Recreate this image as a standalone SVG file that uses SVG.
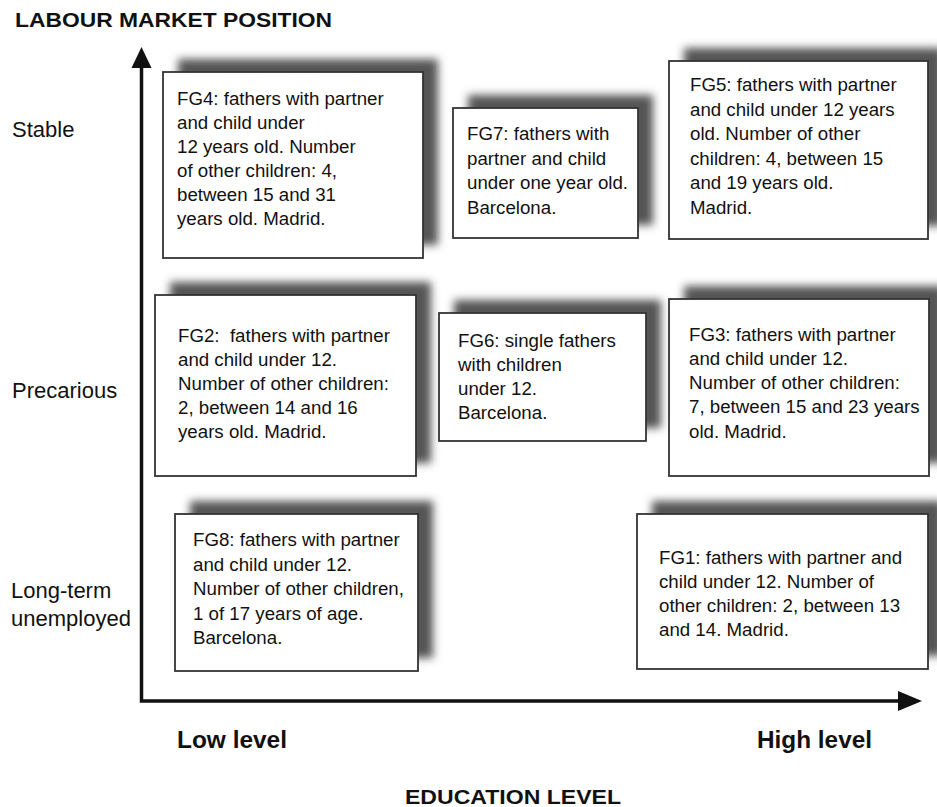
<svg xmlns="http://www.w3.org/2000/svg" width="937" height="807" viewBox="0 0 937 807">
<style>
.box{fill:#ffffff;stroke:#333333;stroke-width:1.8}
.sh{fill:#555555;filter:url(#blur)}
.t{font-family:"Liberation Sans",Arial,sans-serif;font-size:18.7px;fill:#111111}
.side{font-family:"Liberation Sans",Arial,sans-serif;font-size:22px;fill:#111111}
.ax{font-family:"Liberation Sans",Arial,sans-serif;font-weight:bold;font-size:21px;fill:#111111}
.lvl{font-family:"Liberation Sans",Arial,sans-serif;font-weight:bold;font-size:23px;fill:#111111}
.axis{stroke:#111111;stroke-width:3.5;fill:none}
</style>
<defs>
<filter id="blur" x="-20%" y="-20%" width="140%" height="140%"><feGaussianBlur stdDeviation="4"/></filter>
</defs>
<rect width="937" height="807" fill="#ffffff"/>
<text class="ax" x="15" y="27" textLength="317" lengthAdjust="spacingAndGlyphs">LABOUR MARKET POSITION</text>
<text class="ax" x="405" y="804" textLength="216" lengthAdjust="spacingAndGlyphs">EDUCATION LEVEL</text>
<text class="lvl" x="177" y="748" textLength="110" lengthAdjust="spacingAndGlyphs">Low level</text>
<text class="lvl" x="757" y="748" textLength="115" lengthAdjust="spacingAndGlyphs">High level</text>
<text class="side" x="12" y="137">Stable</text>
<text class="side" x="12" y="398">Precarious</text>
<text class="side" x="11" y="598">Long-term</text>
<text class="side" x="11" y="626">unemployed</text>
<g id="connectors">
<path class="axis" d="M141.5,64 V701 H900"/>
<polygon points="141.5,47 131.5,68 151.5,68" fill="#111111"/>
<polygon points="922,701 898,691 898,711" fill="#111111"/>
</g>
<g id="FG4">
<rect class="sh" x="178" y="59" width="260" height="186"/>
<rect class="box" x="163" y="72" width="260" height="186"/>
<text class="t" x="177" y="105">FG4: fathers with partner</text>
<text class="t" x="177" y="129">and child under</text>
<text class="t" x="177" y="153">12 years old. Number</text>
<text class="t" x="177" y="177">of other children: 4,</text>
<text class="t" x="177" y="201">between 15 and 31</text>
<text class="t" x="177" y="225">years old. Madrid.</text>
</g>
<g id="FG7">
<rect class="sh" x="468" y="95" width="185" height="130"/>
<rect class="box" x="453" y="108" width="185" height="130"/>
<text class="t" x="467" y="140">FG7: fathers with</text>
<text class="t" x="467" y="164.5">partner and child</text>
<text class="t" x="467" y="189">under one year old.</text>
<text class="t" x="467" y="213.5">Barcelona.</text>
</g>
<g id="FG5">
<rect class="sh" x="684" y="48" width="259" height="178"/>
<rect class="box" x="669" y="61" width="259" height="178"/>
<text class="t" x="690" y="91">FG5: fathers with partner</text>
<text class="t" x="690" y="115.5">and child under 12 years</text>
<text class="t" x="690" y="140">old. Number of other</text>
<text class="t" x="690" y="164.5">children: 4, between 15</text>
<text class="t" x="690" y="189">and 19 years old.</text>
<text class="t" x="690" y="213.5">Madrid.</text>
</g>
<g id="FG2">
<rect class="sh" x="170" y="282" width="261" height="181"/>
<rect class="box" x="155" y="295" width="261" height="181"/>
<text class="t" x="178" y="342" xml:space="preserve">FG2:  fathers with partner</text>
<text class="t" x="178" y="366">and child under 12.</text>
<text class="t" x="178" y="390">Number of other children:</text>
<text class="t" x="178" y="414">2, between 14 and 16</text>
<text class="t" x="178" y="438">years old. Madrid.</text>
</g>
<g id="FG6">
<rect class="sh" x="454" y="300" width="207" height="128"/>
<rect class="box" x="439" y="313" width="207" height="128"/>
<text class="t" x="458" y="347">FG6: single fathers</text>
<text class="t" x="458" y="371">with children</text>
<text class="t" x="458" y="395">under 12.</text>
<text class="t" x="458" y="419">Barcelona.</text>
</g>
<g id="FG3">
<rect class="sh" x="684" y="286" width="260" height="177"/>
<rect class="box" x="669" y="299" width="260" height="177"/>
<text class="t" x="689" y="341">FG3: fathers with partner</text>
<text class="t" x="689" y="365">and child under 12.</text>
<text class="t" x="689" y="389">Number of other children:</text>
<text class="t" x="689" y="413">7, between 15 and 23 years</text>
<text class="t" x="689" y="438">old. Madrid.</text>
</g>
<g id="FG8">
<rect class="sh" x="190" y="501" width="243" height="157"/>
<rect class="box" x="175" y="514" width="243" height="157"/>
<text class="t" x="193" y="546">FG8: fathers with partner</text>
<text class="t" x="193" y="570.5">and child under 12.</text>
<text class="t" x="193" y="595">Number of other children,</text>
<text class="t" x="193" y="619.5">1 of 17 years of age.</text>
<text class="t" x="193" y="644">Barcelona.</text>
</g>
<g id="FG1">
<rect class="sh" x="652" y="501" width="291" height="155"/>
<rect class="box" x="637" y="514" width="291" height="155"/>
<text class="t" x="659" y="564">FG1: fathers with partner and</text>
<text class="t" x="659" y="588">child under 12. Number of</text>
<text class="t" x="659" y="612">other children: 2, between 13</text>
<text class="t" x="659" y="636">and 14. Madrid.</text>
</g>
</svg>
